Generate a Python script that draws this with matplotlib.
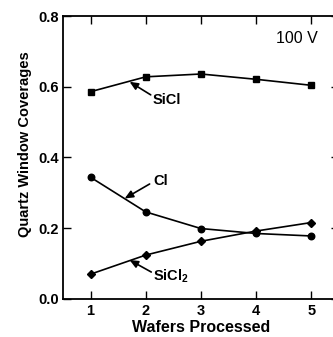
import matplotlib
matplotlib.use("Agg")
import matplotlib.pyplot as plt

plt.rcParams['font.family'] = ['Liberation Sans', 'DejaVu Sans']
plt.rcParams['mathtext.fontset'] = 'custom'
plt.rcParams['mathtext.rm'] = 'Liberation Sans:bold'
plt.rcParams['mathtext.bf'] = 'Liberation Sans:bold'
plt.rcParams['mathtext.it'] = 'Liberation Sans:bold'

wafers = [1, 2, 3, 4, 5]
sicl = [0.586, 0.628, 0.636, 0.621, 0.604]
cl = [0.344, 0.246, 0.199, 0.185, 0.178]
sicl2 = [0.070, 0.124, 0.163, 0.192, 0.216]
yticks = [0.0, 0.2, 0.4, 0.6, 0.8]
ytick_labels = ['0.0', '0.2', '0.4', '0.6', '0.8']

fig = plt.figure(figsize=(3.33, 3.37), dpi=100)
ax = fig.add_axes([0.189, 0.113, 1.018 - 0.189, 0.9525 - 0.113])

lw = 1.2
ax.plot(wafers, sicl, color='black', lw=lw, marker='s', ms=4.5)
ax.plot(wafers, cl, color='black', lw=lw, marker='o', ms=4.7)
ax.plot(wafers, sicl2, color='black', lw=lw, marker='D', ms=4.2)

ax.set_xlim(0.5, 5.5)
ax.set_ylim(0, 0.8)
ax.set_xticks(wafers)
ax.set_xticklabels([str(w) for w in wafers], fontsize=10.5, fontweight='bold')
ax.set_yticks(yticks)
ax.set_yticklabels(ytick_labels, fontsize=10.5, fontweight='bold')
ax.tick_params(direction='in', length=6, width=1.0, top=True, right=True)
ax.tick_params(axis='y', pad=3)
ax.tick_params(axis='x', pad=4)
for s in ax.spines.values():
    s.set_linewidth(1.3)

ax.set_xlabel('Wafers Processed', fontsize=11.5, fontweight='bold')
ax.xaxis.set_label_coords(0.502, -0.076)
ax.set_ylabel('Quartz Window Coverages', fontsize=10.5, fontweight='bold')
ax.yaxis.set_label_coords(-0.112, 0.547)

ax.text(0.773, 0.919, '100 V', transform=ax.transAxes, fontsize=11.5, ha='left', va='center')

arrow = dict(arrowstyle='-|>,head_length=0.5,head_width=0.22', color='black', lw=1.2, shrinkA=0, shrinkB=0)
ax.annotate('', xy=(1.707, 0.614), xytext=(2.09, 0.577), arrowprops=arrow)
ax.text(2.13, 0.562, 'SiCl', fontsize=10.5, fontweight='bold', ha='left', va='center')
ax.annotate('', xy=(1.618, 0.284), xytext=(2.07, 0.325), arrowprops=arrow)
ax.text(2.13, 0.333, 'Cl', fontsize=10.5, fontweight='bold', ha='left', va='center')
ax.annotate('', xy=(1.707, 0.110), xytext=(2.10, 0.076), arrowprops=arrow)
ax.text(2.13, 0.065, r'SiCl$_{2}$', fontsize=10.5, fontweight='bold', ha='left', va='center')

fig.savefig('out.png', dpi=100)
